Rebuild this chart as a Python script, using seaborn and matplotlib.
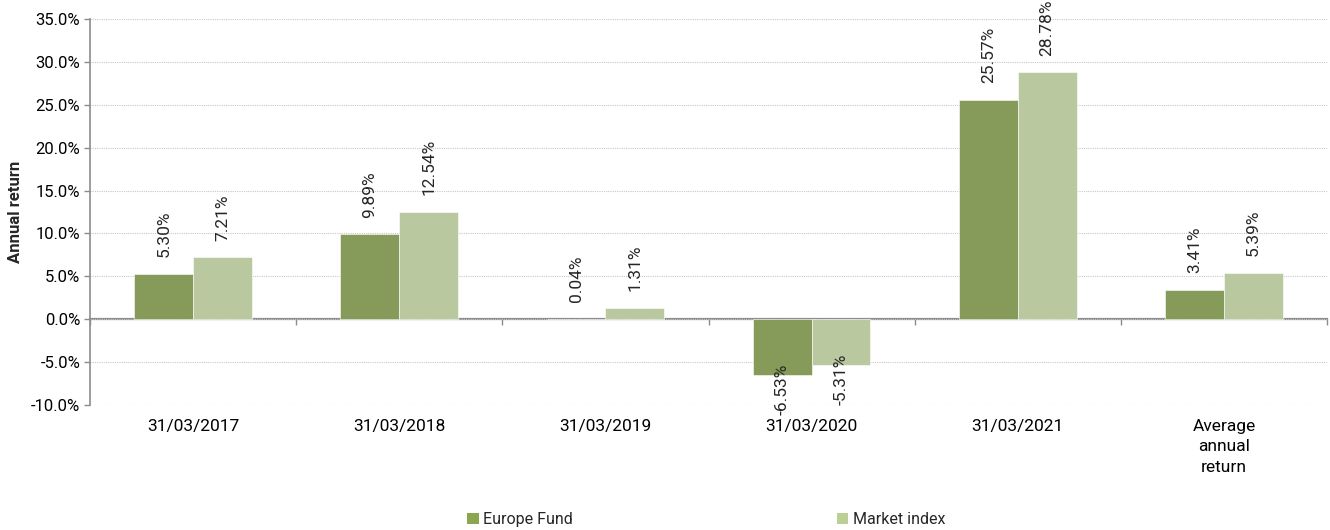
import matplotlib
matplotlib.use("Agg")
import matplotlib.pyplot as plt
import numpy as np
import pandas as pd
import seaborn as sns
from matplotlib.ticker import FuncFormatter, FixedLocator, NullFormatter
from matplotlib.patches import Patch

# Data
periods = ["31/03/2017", "31/03/2018", "31/03/2019", "31/03/2020", "31/03/2021",
           "Average\nannual\nreturn"]
europe_fund = [5.30, 9.89, 0.04, -6.53, 25.57, 3.41]
market_index = [7.21, 12.54, 1.31, -5.31, 28.78, 5.39]
series_names = ["Europe Fund", "Market index"]
colors = ["#8aa64e", "#bbcf97"]

sns.set_theme(style="white")
plt.rcParams["font.family"] = ["Roboto", "DejaVu Sans"]

df = pd.DataFrame({
    "period": periods * 2,
    "value": europe_fund + market_index,
    "series": [series_names[0]] * len(periods) + [series_names[1]] * len(periods),
})

fig = plt.figure(figsize=(13.3, 5.3), dpi=100)
ax = fig.add_axes([90 / 1330, 1 - 405 / 530, 1237 / 1330, 386 / 530])

sns.barplot(data=df, x="period", y="value", hue="series", palette=colors,
            width=0.57, ax=ax, edgecolor="white", linewidth=0.4, legend=False)

ax.set_ylim(-10, 35)
ax.set_xlim(-0.5, len(periods) - 0.5)
ax.set_yticks(np.arange(-10, 36, 5))
ax.yaxis.set_major_formatter(FuncFormatter(lambda v, p: f"{v:.1f}%"))
ax.grid(axis="y", color="#c8c8c8", linestyle=(0, (1, 1)), linewidth=0.8)
ax.set_axisbelow(True)

for s in ["top", "right", "bottom"]:
    ax.spines[s].set_visible(False)
ax.spines["left"].set_color("#8c8c8c")
ax.spines["left"].set_linewidth(1.2)
ax.tick_params(axis="y", left=True, length=4, width=1, color="#8c8c8c",
               labelsize=12, labelcolor="black", pad=3)
ax.tick_params(axis="x", bottom=False, labelsize=12.5, labelcolor="black", pad=4)
for lbl in ax.get_xticklabels():
    lbl.set_linespacing(1.45)
ax.set_xlabel("")
ax.set_ylabel("Annual return", fontsize=12, fontweight="bold", labelpad=6)

# zero line with category boundary ticks
zero_ax = ax.secondary_xaxis(0, transform=ax.transData)
zero_ax.spines["bottom"].set_color("#8c8c8c")
zero_ax.spines["bottom"].set_linewidth(1.6)
zero_ax.xaxis.set_major_locator(FixedLocator(np.arange(-0.5, len(periods), 1.0)))
zero_ax.xaxis.set_major_formatter(NullFormatter())
zero_ax.tick_params(axis="x", length=4, width=1, color="#8c8c8c", direction="out")

# value labels
for cont in ax.containers:
    for bar in cont:
        h = bar.get_height()
        xc = bar.get_x() + bar.get_width() / 2
        if h >= 0:
            ax.annotate(f"{h:.2f}%", (xc, h), xytext=(0, 12), textcoords="offset points",
                        rotation=90, ha="center", va="bottom", fontsize=12.5)
        else:
            ax.annotate(f"{h:.2f}%", (xc, h), xytext=(0, 8), textcoords="offset points",
                        rotation=90, ha="center", va="top", fontsize=12.5)

handles = [Patch(facecolor=c, edgecolor="none") for c in colors]
fig.legend(handles, series_names, loc="lower center", bbox_to_anchor=(0.531, -0.022),
           ncol=2, frameon=False, fontsize=11.5, handlelength=0.7, handleheight=0.7,
           handletextpad=0.3, columnspacing=16.5)

fig.savefig("out.png", dpi=100)
